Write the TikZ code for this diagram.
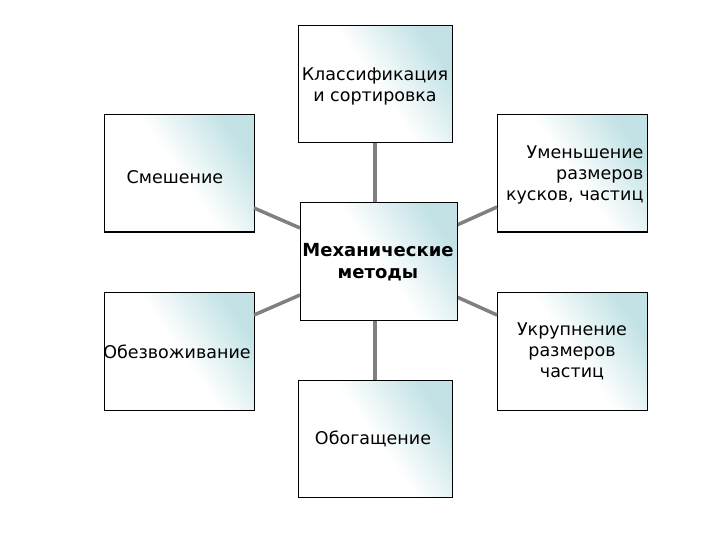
\documentclass[tikz,border=0pt]{standalone}
\usepackage{fontspec}
\setmainfont{DejaVu Sans}
\definecolor{tealc}{HTML}{C2E2E5}
\definecolor{linec}{HTML}{808080}
\begin{document}
\begin{tikzpicture}[x=1pt,y=-1pt,
  box/.style={draw=black,line width=1pt,inner sep=0pt,
    bottom color=white,top color=tealc,middle color=white,shading angle=-55},
  lbl/.style={font=\fontsize{17.5}{21}\selectfont,align=center},
  conn/.style={draw=linec,line width=3.5pt}]
\useasboundingbox (0,0) rectangle (720,540);
% boxes
\path[box] (298,26) rectangle (452,143);
\path[box] (104,115) rectangle (254,232);
\path[box] (497,115) rectangle (647,232);
\path[box] (104,292) rectangle (254,410);
\path[box] (497,292) rectangle (647,410);
\path[box] (298,380) rectangle (452,497);
\coordinate (tb) at (375,143); \coordinate (bt) at (375,380);
\coordinate (lu) at (254,208); \coordinate (ll) at (254,315);
\coordinate (ru) at (497,207); \coordinate (rl) at (497,315);
\coordinate (ct) at (375,203); \coordinate (cb) at (375,320);
\coordinate (clu) at (300,228); \coordinate (cll) at (300,295);
\coordinate (cru) at (457,225); \coordinate (crl) at (457,297);
\draw[conn] (tb) -- (ct); \draw[conn] (cb) -- (bt);
\draw[conn] (lu) -- (clu); \draw[conn] (ll) -- (cll);
\draw[conn] (ru) -- (cru); \draw[conn] (rl) -- (crl);
\path[box] (300,203) rectangle (457,320);
% labels
\node[lbl] (t) at (375,86) {Классификация\\и сортировка};
\node[lbl] (lu1) at (175,177) {Смешение};
\node[lbl,align=right,anchor=east] (ru1) at (647,175) {Уменьшение\\размеров\\кусков, частиц};
\node[lbl,font=\fontsize{18}{21.5}\selectfont\bfseries] (c) at (378,262) {Механические\\методы};
\node[lbl] (ll1) at (177,352) {Обезвоживание};
\node[lbl] (rl1) at (572,351) {Укрупнение\\размеров\\частиц};
\node[lbl] (b) at (373,439) {Обогащение};
\end{tikzpicture}
\end{document}
